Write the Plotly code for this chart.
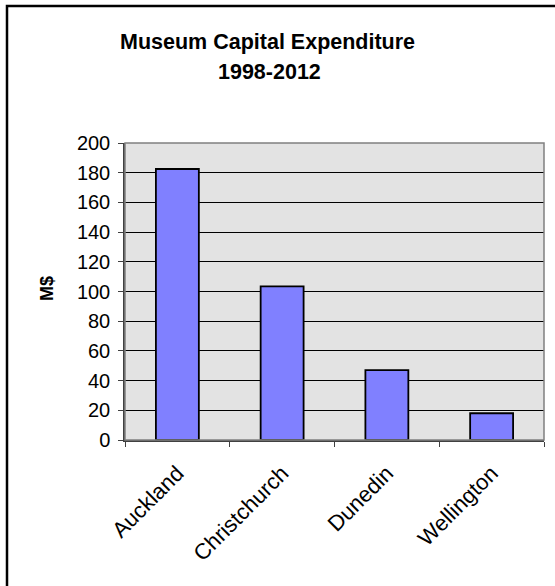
import plotly.graph_objects as go

categories = ["Auckland", "Christchurch", "Dunedin", "Wellington"]
values = [182.5, 103.5, 47, 18]
y_ticks = [0, 20, 40, 60, 80, 100, 120, 140, 160, 180, 200]

W, H = 555, 586
L, R, T, B = 125, 11, 143, 146
pw = W - L - R
ph = H - T - B

def px(x):
    return (x - L) / pw

def py(y):
    return 1 - (y - T) / ph

fig = go.Figure()
fig.add_trace(go.Bar(
    x=categories, y=values,
    marker=dict(color="#8080FF", line=dict(color="black", width=1.8)),
    width=0.41,
))

font = "Liberation Sans, Arial, sans-serif"
fig.update_layout(
    width=W, height=H,
    margin=dict(l=L, r=R, t=T, b=B),
    paper_bgcolor="white",
    plot_bgcolor="#e3e3e3",
    showlegend=False,
    font=dict(family=font, color="black"),
    xaxis=dict(
        type="category", tickson="boundaries", ticks="outside", ticklen=5,
        tickcolor="#404040", tickangle=-45, tickfont=dict(size=22),
        ticklabelstandoff=10,
        showline=True, linecolor="#404040", linewidth=1.5, mirror=False,
        showgrid=False,
    ),
    yaxis=dict(
        range=[0, 200], tickvals=y_ticks, ticks="outside", ticklen=5,
        tickcolor="#404040", tickfont=dict(size=20),
        ticklabelstandoff=4,
        showline=True, linecolor="#404040", linewidth=1.5,
        showgrid=True, gridcolor="black", gridwidth=1,
        zeroline=False,
    ),
    shapes=[
        dict(type="rect", xref="paper", yref="paper", x0=0, x1=1, y0=0, y1=1,
             line=dict(color="#808080", width=1.5), layer="above"),
        dict(type="path", xref="paper", yref="paper",
             path=f"M {px(7)} {py(600)} L {px(7)} {py(6)} L {px(600)} {py(6)}",
             line=dict(color="black", width=2.5)),
    ],
    annotations=[
        dict(text="<b>Museum Capital Expenditure</b>", xref="paper", yref="paper",
             x=px(267), y=py(42), showarrow=False, font=dict(size=21.5),
             xanchor="center", yanchor="middle"),
        dict(text="<b>1998-2012</b>", xref="paper", yref="paper",
             x=px(269), y=py(72), showarrow=False, font=dict(size=21.5),
             xanchor="center", yanchor="middle"),
        dict(text="<b>M$</b>", xref="paper", yref="paper",
             x=px(47), y=py(289), showarrow=False, font=dict(size=18),
             textangle=-90, xanchor="center", yanchor="middle"),
    ],
)

fig.write_html("out.html")
